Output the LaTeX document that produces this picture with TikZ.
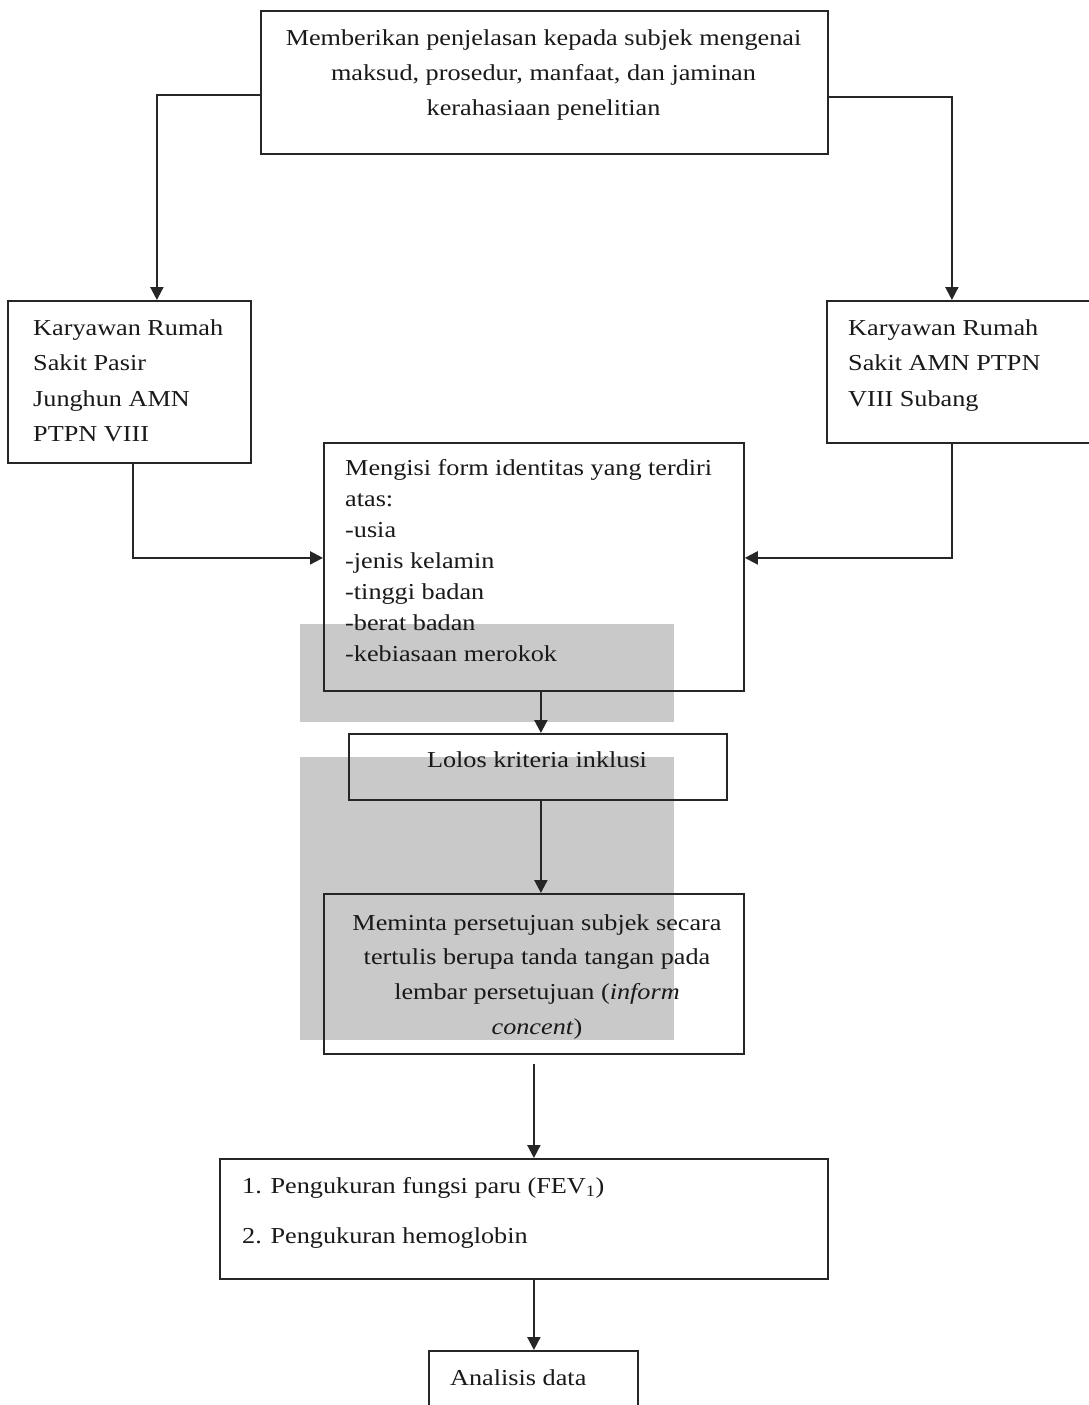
\documentclass[tikz,border=0pt]{standalone}
\usepackage{fontspec}
\setmainfont{Liberation Serif}[FakeStretch=1.15]
\usetikzlibrary{arrows.meta}
\newcommand{\firstline}{\rule{0pt}{17pt}}
\begin{document}
\begin{tikzpicture}[x=1pt,y=-1pt,
  box/.style={draw=black!85, line width=1.8pt, rectangle, inner sep=0pt, anchor=north west},
  txt/.style={inner sep=0pt, text=black!90},
  arr/.style={draw=black!85, line width=2.2pt, -{Triangle[length=13pt,width=13pt]}},
  plain/.style={draw=black!85, line width=1.8pt},
  wm/.style={fill=black!21, draw=none}]
\clip (0,0) rectangle (1089,1405);
\fill[white] (0,0) rectangle (1089,1405);
% watermark blocks
\fill[wm] (300,624) rectangle (674,722);
\fill[wm] (300,757) rectangle (674,1040);
% boxes
\node[box, minimum width=567pt, minimum height=143pt] (top) at (260,10) {};
\node[box, minimum width=243pt, minimum height=162pt] (left) at (7,300) {};
\node[box, minimum width=274pt, minimum height=142pt] (right) at (826,300) {};
\node[box, minimum width=420pt, minimum height=248pt] (mid) at (323,442) {};
\node[box, minimum width=378pt, minimum height=66pt] (lolos) at (348,733) {};
\node[box, minimum width=420pt, minimum height=160pt] (mem) at (323,893) {};
\node[box, minimum width=608pt, minimum height=120pt] (fev) at (219,1158) {};
\node[box, minimum width=209pt, minimum height=90pt] (ana) at (428,1350) {};
% texts
\node[txt, anchor=north, align=center, font=\fontsize{22.8}{35}\selectfont] (topT) at (543.5,28)
  {\firstline Memberikan penjelasan kepada subjek mengenai\\maksud, prosedur, manfaat, dan jaminan\\kerahasiaan penelitian};
\node[txt, anchor=north west, align=left, font=\fontsize{22.8}{35.5}\selectfont] (leftT) at (33,318)
  {\firstline Karyawan Rumah\\Sakit Pasir\\Junghun AMN\\PTPN VIII};
\node[txt, anchor=north west, align=left, font=\fontsize{22.8}{35.5}\selectfont] (rightT) at (848,318)
  {\firstline Karyawan Rumah\\Sakit AMN PTPN\\VIII Subang};
\node[txt, anchor=north west, align=left, font=\fontsize{22.8}{31.1}\selectfont] (midT) at (345,458)
  {\firstline Mengisi form identitas yang terdiri\\atas:\\-usia\\-jenis kelamin\\-tinggi badan\\-berat badan\\-kebiasaan merokok};
\node[txt, anchor=base, font=\fontsize{22.8}{35}\selectfont] (lolosT) at (537,767) {Lolos kriteria inklusi};
\node[txt, anchor=north, align=center, font=\fontsize{22.8}{34.7}\selectfont] (memT) at (537,913)
  {\firstline Meminta persetujuan subjek secara\\tertulis berupa tanda tangan pada\\lembar persetujuan (\textit{inform}\\\textit{concent})};
\node[txt, anchor=north west, align=left, font=\fontsize{22.8}{50}\selectfont] (fevT) at (242,1176)
  {\firstline 1. Pengukuran fungsi paru (FEV\textsubscript{1})\\2. Pengukuran hemoglobin};
\node[txt, anchor=base west, font=\fontsize{22.8}{35}\selectfont] (anaT) at (450,1385) {Analisis data};
% connectors
\draw[arr] ([yshift=-12.5pt]top.west) -| ([xshift=27.5pt]left.north);
\draw[arr] ([yshift=-14.5pt]top.east) -| ([xshift=-12pt]right.north);
\draw[arr] ([xshift=3.5pt]left.south) |- ([yshift=9pt]mid.west);
\draw[arr] ([xshift=-12pt]right.south) |- ([yshift=9pt]mid.east);
\draw[arr] ([xshift=7pt]mid.south) -- ([xshift=7pt]mid.south |- lolos.north);
\draw[arr] ([xshift=3pt]lolos.south) -- ([xshift=3pt]lolos.south |- mem.north);
\draw[arr] ([yshift=-9pt]mem.south) -- (mem.south |- fev.north);
\draw[arr] ([xshift=10pt]fev.south) -- ([xshift=10pt]fev.south |- ana.north);
\end{tikzpicture}
\end{document}
